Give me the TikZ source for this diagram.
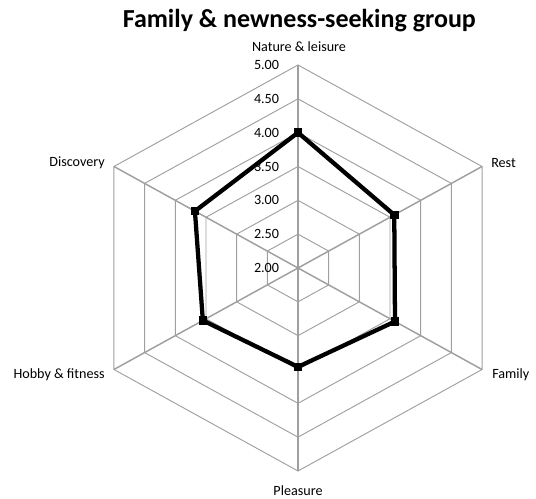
\documentclass[tikz,border=0pt]{standalone}
\usepackage{fontspec}
\setmainfont{Carlito}
\begin{document}
\begin{tikzpicture}[x=1pt,y=1pt,
    ring/.style={draw=gray!75,line width=0.7pt},
    spoke/.style={draw=gray!75,line width=1.1pt},
    lab/.style={inner sep=0pt,font=\fontsize{10.6}{12}\selectfont},
    mk/.style={fill=black,minimum size=6.5pt,inner sep=0pt}]
    \useasboundingbox (0,0) rectangle (402,374.25);

    \node[font=\bfseries\fontsize{19.5}{22}\selectfont] (title) at (224.5,359) {Family \& newness-seeking group};

    \begin{scope}[shift={(223.5,173.25)},x=159.4pt,y=152.25pt]
        \foreach \r in {1,...,6}
            \draw[ring] (90:\r/6) -- (30:\r/6) -- (-30:\r/6) -- (-90:\r/6) -- (-150:\r/6) -- (150:\r/6) -- cycle;
        \foreach \a in {90,30,-30,-90,-150,150}
            \draw[spoke] (0,0) -- (\a:1);
        \foreach \v [count=\i from 0] in {2.00,2.50,3.00,3.50,4.00,4.50,5.00}
            \node[lab,anchor=east,xshift=-14pt] (v\i) at (0,\i/6) {\v};

        \coordinate (nat) at (90:0.667);
        \coordinate (rest) at (30:0.523);
        \coordinate (fam) at (-30:0.527);
        \coordinate (plea) at (-90:0.487);
        \coordinate (hob) at (-150:0.517);
        \coordinate (disc) at (150:0.56);
        \draw[line width=3.2pt,line join=miter] (nat) -- (rest) -- (fam) -- (plea) -- (hob) -- (disc) -- cycle;
        \foreach \p in {nat,rest,fam,plea,hob,disc}
            \node[mk] at (\p) {};
    \end{scope}

    \node[lab] (l1) at (224.25,339) {Nature \& leisure};
    \node[lab,anchor=west] (l2) at (368.25,252) {Rest};
    \node[lab,anchor=west] (l3) at (369,93) {Family};
    \node[lab] (l4) at (223.5,6) {Pleasure};
    \node[lab,anchor=east] (l5) at (78.75,93) {Hobby \& fitness};
    \node[lab,anchor=east] (l6) at (78.75,252) {Discovery};
\end{tikzpicture}
\end{document}
